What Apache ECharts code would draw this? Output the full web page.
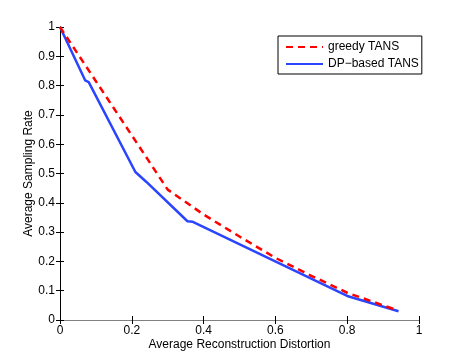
<!DOCTYPE html>
<html>
<head>
<meta charset="utf-8">
<script src="https://cdn.jsdelivr.net/npm/echarts@6/dist/echarts.min.js"></script>
<style>html,body{margin:0;padding:0;background:#fff}#c{width:463px;height:360px}</style>
</head>
<body>
<div id="c"></div>
<script>
var greedyX = [0, 0.1, 0.2, 0.3, 0.4, 0.5, 0.6, 0.7, 0.8, 0.94];
var greedyY = [1, 0.815, 0.63, 0.445, 0.36, 0.285, 0.212, 0.151, 0.093, 0.033];
var dpX = [0, 0.07, 0.08, 0.21, 0.24, 0.355, 0.37, 0.8, 0.943];
var dpY = [1, 0.818, 0.812, 0.505, 0.472, 0.337, 0.335, 0.082, 0.03];
var seriesNames = ['greedy TANS', 'DP\u2212based TANS'];
var xTitle = 'Average Reconstruction Distortion';
var yTitle = 'Average Sampling Rate';

function pairs(xs, ys) { return xs.map(function (x, i) { return [x, ys[i]]; }); }

var font = 'Liberation Sans, Arial, Helvetica, sans-serif';
var chart = echarts.init(document.getElementById('c'), null, {renderer: 'canvas'});
var tickCommon = {show: true, inside: true, length: 4, lineStyle: {color: '#000', width: 1}};
chart.setOption({
  animation: false,
  backgroundColor: '#fff',
  grid: {left: 60, right: 44, top: 27, bottom: 40, containLabel: false},
  legend: {
    orient: 'vertical',
    left: 278, top: 36,
    itemWidth: 37, itemHeight: 12, itemGap: 5,
    padding: [5, 3, 4, 7],
    backgroundColor: '#fff',
    borderColor: '#000', borderWidth: 1, borderRadius: 0,
    itemStyle: {opacity: 0},
    textStyle: {fontFamily: font, fontSize: 12, color: '#000'},
    data: seriesNames
  },
  xAxis: [{
    type: 'value', min: 0, max: 1, interval: 0.2,
    name: xTitle, nameLocation: 'middle', nameGap: 19, nameMoveOverlap: false,
    nameTextStyle: {fontFamily: font, fontSize: 12, color: '#000'},
    axisLine: {show: true, lineStyle: {color: '#000', width: 1}},
    axisTick: tickCommon,
    axisLabel: {fontFamily: font, fontSize: 12, color: '#000', margin: 5},
    splitLine: {show: false}
  }, {
    type: 'value', min: 0, max: 1, interval: 0.2, position: 'top',
    axisLine: {show: true, lineStyle: {color: '#808080', width: 1}},
    axisTick: tickCommon,
    axisLabel: {show: false},
    splitLine: {show: false}
  }],
  yAxis: [{
    type: 'value', min: 0, max: 1, interval: 0.1,
    name: yTitle, nameLocation: 'middle', nameGap: 25, nameMoveOverlap: false,
    nameTextStyle: {fontFamily: font, fontSize: 12, color: '#000'},
    axisLine: {show: true, lineStyle: {color: '#000', width: 1}},
    axisTick: tickCommon,
    axisLabel: {fontFamily: font, fontSize: 12, color: '#000', margin: 5},
    splitLine: {show: false}
  }, {
    type: 'value', min: 0, max: 1, interval: 0.1, position: 'right',
    axisLine: {show: true, lineStyle: {color: '#000', width: 1}},
    axisTick: tickCommon,
    axisLabel: {show: false},
    splitLine: {show: false}
  }],
  series: [{
    name: seriesNames[0], type: 'line', symbol: 'none',
    data: pairs(greedyX, greedyY),
    lineStyle: {color: '#ff0000', width: 2.5, type: [7, 5]},
    itemStyle: {color: '#ff0000'},
    z: 3
  }, {
    name: seriesNames[1], type: 'line', symbol: 'none',
    data: pairs(dpX, dpY),
    lineStyle: {color: '#2b45ff', width: 2.5, type: 'solid'},
    itemStyle: {color: '#2b45ff'},
    z: 2
  }]
});
</script>
</body>
</html>
